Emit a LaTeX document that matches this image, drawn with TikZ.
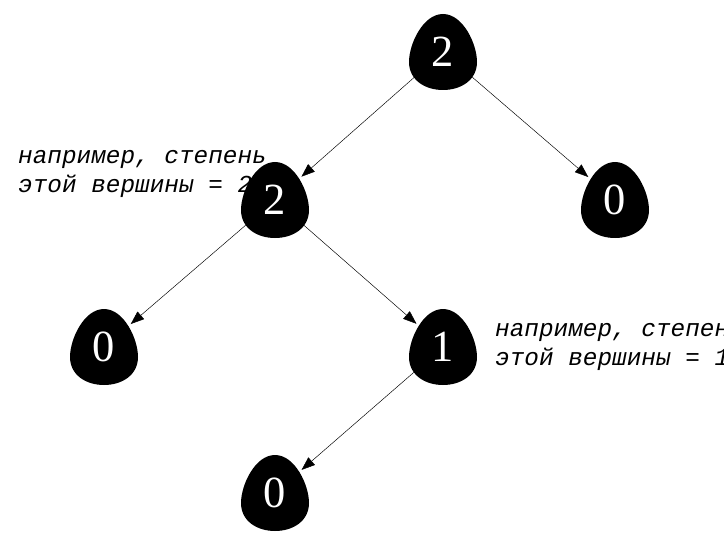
\documentclass[tikz,border=0pt]{standalone}
\usepackage{fontspec}
\setmainfont{Liberation Serif}
\newfontfamily\notefont{Liberation Mono}
\usetikzlibrary{positioning,arrows.meta,calc}
\pgfdeclarelayer{bg}
\pgfsetlayers{bg,main}
\tikzset{
	>={Triangle[length=4mm,width=3mm]}
}

\begin{document}
\begin{tikzpicture}[
x = 0.03cm, y = -0.03cm,
vertex/.style = {
	circle,
	minimum size = 2.1cm,
	inner sep = 0pt,
	text = white,
	font = \fontsize{38}{38}\selectfont
},
edge/.style = {
	->,
	thin
},
note/.style = {
	font = \fontsize{20.8}{24.5}\selectfont\notefont\itshape,
	align = left,
	anchor = north west,
	inner sep = 0pt
}
]
\useasboundingbox (0,0) rectangle (724,537);

\node [vertex] (root) at (443,52) {2};
\node [vertex] (a) at (275,200) {2};
\node [vertex] (b) at (615,200) {0};
\node [vertex] (aa) at (104,347) {0};
\node [vertex] (ab) at (443,347) {1};
\node [vertex] (aba) at (275,493) {0};

% egg shapes behind the digits
\begin{pgfonlayer}{bg}
\foreach \v in {root,a,b,aa,ab,aba} {
	\fill ($(\v)+(0,-38)$) .. controls +(20,0) and +(0,-18) .. ++(34,48)
		.. controls +(0,18) and +(18,0) .. ++(-34,28)
		.. controls +(-18,0) and +(0,18) .. ++(-34,-28)
		.. controls +(0,-18) and +(-20,0) .. ++(34,-48);
}
\end{pgfonlayer}

\draw[edge] (root) -- (a);
\draw[edge] (root) -- (b);
\draw[edge] (a) -- (aa);
\draw[edge] (a) -- (ab);
\draw[edge] (ab) -- (aba);

\node [note] (n1) at (18,150) {например, степень\\этой вершины = 2};
\node [note] (n2) at (495,323) {например, степень\\этой вершины = 1};

\end{tikzpicture}
\end{document}
